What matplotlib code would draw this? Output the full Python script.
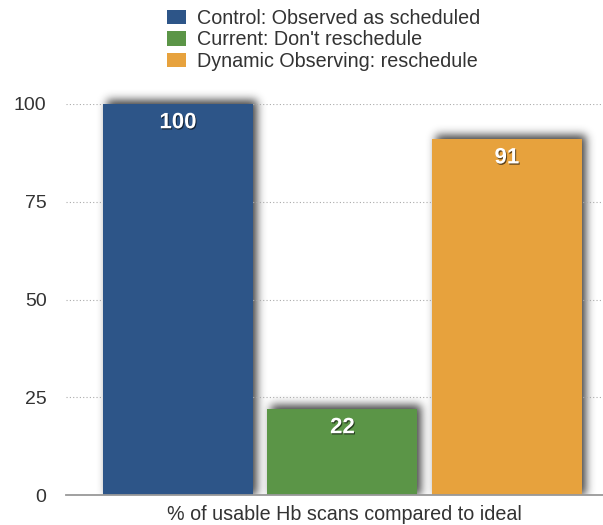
import numpy as np
import matplotlib
matplotlib.use("Agg")
import matplotlib.pyplot as plt
import matplotlib.patheffects as pe
from matplotlib.patches import Patch

plt.rcParams["font.family"] = ["Liberation Sans", "DejaVu Sans"]

labels = ["Control: Observed as scheduled",
          "Current: Don't reschedule",
          "Dynamic Observing: reschedule"]
values = [100, 22, 91]
colors = ["#2d5588", "#5b9547", "#e7a23d"]
yticks = [0, 25, 50, 75, 100]
xlabel = "% of usable Hb scans compared to ideal"

DPI = 100
fig = plt.figure(figsize=(6.03, 5.25), dpi=DPI)
ax = fig.add_axes([66 / 603, 30 / 525, 537 / 603, 391 / 525])
ax.set_zorder(1)
ax.patch.set_alpha(0)

x = np.arange(len(values))
width = 0.912
bars = ax.bar(x, values, width=width, color=colors, zorder=3)
ax.set_xlim(-0.681, 2.584)
ax.set_ylim(0, 100)

# soft drop shadow behind the bars, blurred in pixel space
H, W = 525, 603
mask = np.zeros((H, W))
dx, dy = 4, 4
for b in bars:
    (px0, py0) = ax.transData.transform((b.get_x(), 0))
    (px1, py1) = ax.transData.transform((b.get_x() + b.get_width(), b.get_height()))
    r0, r1 = int(round(py0)), int(round(py1)) + dy
    c0, c1 = int(round(px0)) + dx, int(round(px1)) + dx
    mask[max(r0, 0):min(r1, H), max(c0, 0):min(c1, W)] = 1.0
sigma = 4.5
k = np.arange(-14, 15)
kern = np.exp(-k ** 2 / (2 * sigma ** 2))
kern /= kern.sum()
mask = np.apply_along_axis(lambda m: np.convolve(m, kern, mode="same"), 0, mask)
mask = np.apply_along_axis(lambda m: np.convolve(m, kern, mode="same"), 1, mask)
base = int(round(ax.transData.transform((0, 0))[1]))
mask[:base, :] = 0
shadow = np.zeros((H, W, 4))
shadow[..., :3] = 0.12
shadow[..., 3] = mask * 0.85
fig.figimage(shadow, xo=0, yo=0, origin="lower", zorder=0.5)

# value labels inside the top of each bar
for xi, v in zip(x, values):
    ax.annotate(str(v), (xi, v), xytext=(0, -13.5), textcoords="offset points",
                ha="center", va="center", color="white", fontsize=16,
                fontweight="bold", zorder=5,
                path_effects=[pe.withSimplePatchShadow(offset=(0.7, -0.9),
                                                       shadow_rgbFace="black",
                                                       alpha=0.6)])

ax.set_yticks(yticks)
ax.set_xticks([])
ax.yaxis.grid(True, linestyle=(0, (1, 2)), color="#aaaaaa", linewidth=0.8, zorder=0)
ax.tick_params(axis="y", length=0, pad=14, labelsize=14, labelcolor="#333333")
for s in ["top", "right", "left"]:
    ax.spines[s].set_visible(False)
ax.spines["bottom"].set_color("#999999")
ax.spines["bottom"].set_linewidth(1.3)
ax.spines["bottom"].set_zorder(4)
ax.set_xlabel(xlabel, fontsize=14.2, color="#333333")
ax.xaxis.set_label_coords(0.518, -0.05)
ax.xaxis.label.set_va("center")

handles = [Patch(facecolor=c, edgecolor="none") for c in colors]
fig.legend(handles, labels, loc="upper left", bbox_to_anchor=(167 / 603, 1 - 9 / 525),
           frameon=False, fontsize=14.2, handlelength=0.95, handleheight=0.75,
           handletextpad=0.55, labelspacing=0.12, borderpad=0, borderaxespad=0,
           labelcolor="#333333")

fig.savefig("out.png", dpi=DPI)
